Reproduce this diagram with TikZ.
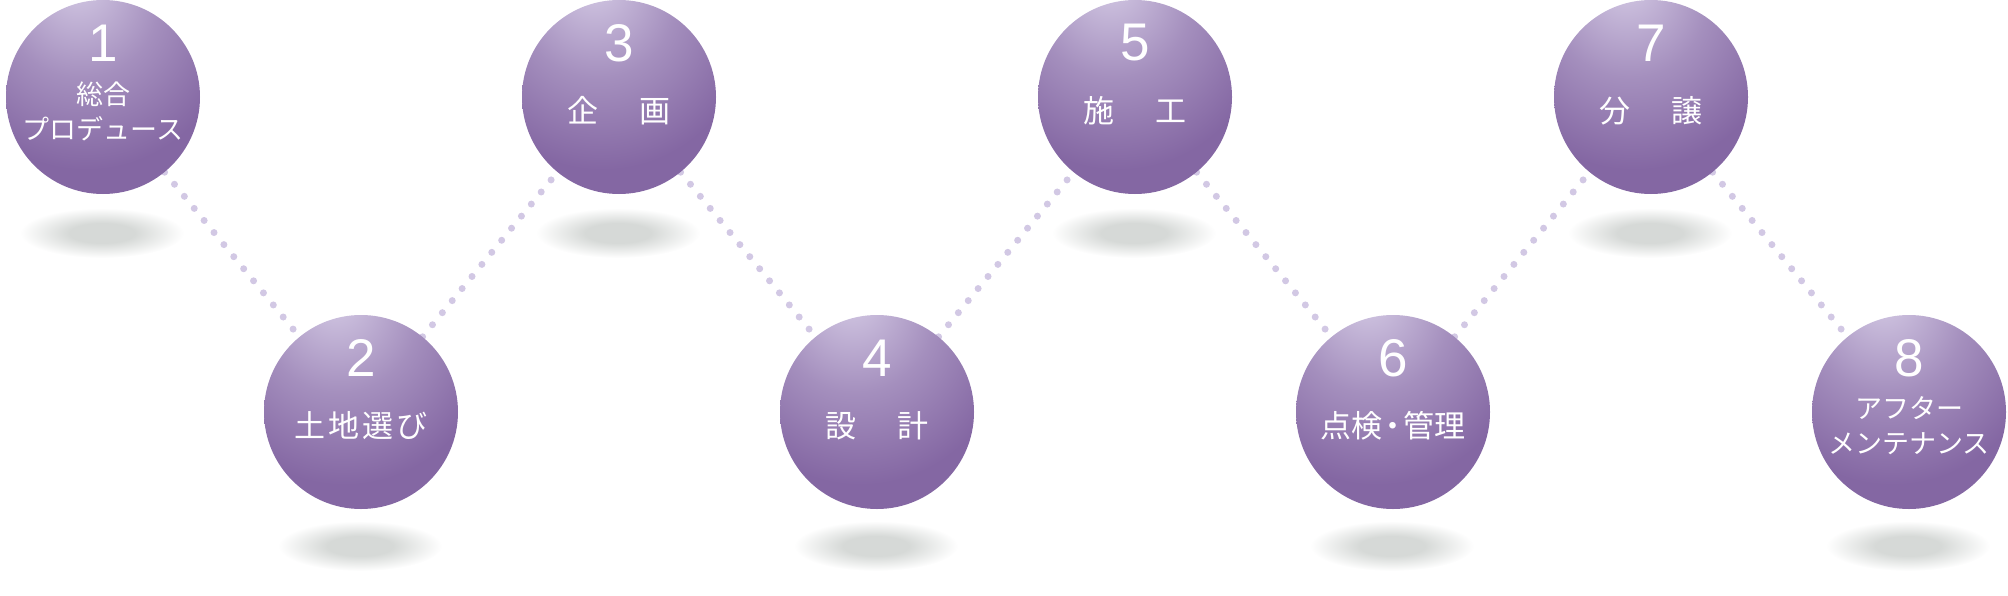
\documentclass[tikz,border=0pt]{standalone}
\usepackage{fontspec}
\setmainfont{Liberation Sans}
\newfontfamily\jpfont{Noto Sans CJK JP}

% Definizione colori
\definecolor{colorSfera}{RGB}{132, 103, 163}
\definecolor{colorLuce}{RGB}{204, 192, 222}
\colorlet{colorMedio}{colorSfera!55!colorLuce}
\definecolor{colorPunti}{RGB}{210, 200, 228}
\definecolor{colorOmbra}{RGB}{214, 217, 215}

% Sfumature
\pgfdeclareradialshading{luceSfera}{\pgfpoint{-7bp}{31bp}}{color(0bp)=(colorLuce); color(4bp)=(colorLuce); color(20bp)=(colorMedio); color(38bp)=(colorSfera); color(100bp)=(colorSfera)}
\pgfdeclareradialshading{ombraSfera}{\pgfpointorigin}{color(0bp)=(colorOmbra); color(10bp)=(colorOmbra); color(25bp)=(white); color(50bp)=(white)}

\pgfdeclarelayer{ombre}
\pgfdeclarelayer{sfondo}
\pgfsetlayers{ombre,sfondo,main}

\begin{document}
\begin{tikzpicture}[x=1pt, y=-1pt,
  sfera/.style={circle, shading=luceSfera, minimum size=194pt, inner sep=0pt},
  numero/.style={text=white, font=\fontsize{53}{53}\selectfont, yshift=54pt},
  testo/.style={text=white, align=center, font=\jpfont\fontsize{27}{35}\selectfont, yshift=-14pt},
  grande/.style={font=\jpfont\fontsize{31}{35}\selectfont},
  punti/.style={draw=colorPunti, line width=7pt, line cap=round, dash pattern=on 0pt off 15.6pt},
  ombra/.style={shading=ombraSfera}
    ]
    \useasboundingbox (0,0) rectangle (2008,595);

    % Sfere
    \node[sfera] (s1) at (103,97) {};
    \node[numero] (n1) at (s1.center) {1};
    \node[testo] (t1) at (s1.center) {総合\\プロデュース};

    \node[sfera] (s2) at (361,412) {};
    \node[numero] (n2) at (s2.center) {2};
    \node[testo, grande] (t2) at (s2.center) {土\kern3pt 地\kern3pt 選\kern3pt び};

    \node[sfera] (s3) at (619,97) {};
    \node[numero] (n3) at (s3.center) {3};
    \node[testo, grande] (t3) at (s3.center) {企\hspace{42pt}画};

    \node[sfera] (s4) at (877,412) {};
    \node[numero] (n4) at (s4.center) {4};
    \node[testo, grande] (t4) at (s4.center) {設\hspace{42pt}計};

    \node[sfera] (s5) at (1135,97) {};
    \node[numero] (n5) at (s5.center) {5};
    \node[testo, grande] (t5) at (s5.center) {施\hspace{42pt}工};

    \node[sfera] (s6) at (1393,412) {};
    \node[numero] (n6) at (s6.center) {6};
    \node[testo, grande] (t6) at (s6.center) {点検\kern-5pt・\kern-5pt 管理};

    \node[sfera] (s7) at (1651,97) {};
    \node[numero] (n7) at (s7.center) {7};
    \node[testo, grande] (t7) at (s7.center) {分\hspace{42pt}譲};

    \node[sfera] (s8) at (1909,412) {};
    \node[numero] (n8) at (s8.center) {8};
    \node[testo] (t8) at (s8.center) {アフター\\メンテナンス};

    % Collegamenti a punti
    \begin{pgfonlayer}{sfondo}
    \draw[punti] (s1) -- (s2);
    \draw[punti] (s2) -- (s3);
    \draw[punti] (s3) -- (s4);
    \draw[punti] (s4) -- (s5);
    \draw[punti] (s5) -- (s6);
    \draw[punti] (s6) -- (s7);
    \draw[punti] (s7) -- (s8);
    \end{pgfonlayer}

    % Ombre
    \begin{pgfonlayer}{ombre}
    \shade[ombra] (102,233) ellipse [x radius=82pt, y radius=25pt];
    \shade[ombra] (360,546) ellipse [x radius=82pt, y radius=25pt];
    \shade[ombra] (618,233) ellipse [x radius=82pt, y radius=25pt];
    \shade[ombra] (876,546) ellipse [x radius=82pt, y radius=25pt];
    \shade[ombra] (1134,233) ellipse [x radius=82pt, y radius=25pt];
    \shade[ombra] (1392,546) ellipse [x radius=82pt, y radius=25pt];
    \shade[ombra] (1650,233) ellipse [x radius=82pt, y radius=25pt];
    \shade[ombra] (1908,546) ellipse [x radius=82pt, y radius=25pt];
    \end{pgfonlayer}
    \end{tikzpicture}
\end{document}
